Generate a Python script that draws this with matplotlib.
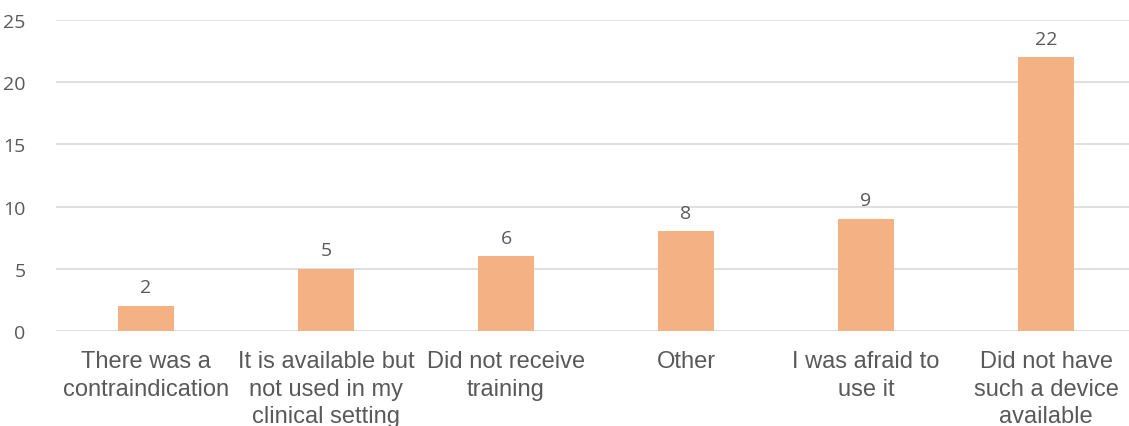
import numpy as np
import matplotlib.pyplot as plt

categories = ["There was a\ncontraindication", "It is available but\nnot used in my\nclinical setting",
              "Did not receive\ntraining", "Other", "I was afraid to\nuse it",
              "Did not have\nsuch a device\navailable"]
values = [2, 5, 6, 8, 9, 22]
yticks = [0, 5, 10, 15, 20, 25]

text_color = '#595959'
bar_color = '#F4B183'

fig = plt.figure(figsize=(11.29, 4.27), dpi=100)
ax = fig.add_axes([56 / 1129, (427 - 332) / 427, 1080 / 1129, (332 - 21) / 427])

x = np.arange(len(categories))
bars = ax.bar(x, values, width=0.31, color=bar_color, zorder=2)

for xi, v in zip(x, values):
    ax.annotate(str(v), (xi, v), xytext=(0, 7), textcoords='offset points',
                ha='center', va='bottom', fontsize=14, color=text_color, family='Open Sans')

ax.set_xlim(-0.5, len(categories) - 0.5)
ax.set_ylim(0, 25)
ax.set_yticks(yticks)
ax.set_yticklabels([str(t) for t in yticks], fontsize=14, color=text_color, family='Open Sans')
ax.set_xticks(x)
ax.set_xticklabels(categories, fontsize=17, color=text_color, family='Liberation Sans',
                   linespacing=1.3)
ax.tick_params(axis='both', length=0)
ax.tick_params(axis='x', pad=14)
ax.tick_params(axis='y', pad=22)
ax.grid(axis='y', color='#D9D9D9', linewidth=1.2, zorder=0)
for s in ax.spines.values():
    s.set_visible(False)

plt.savefig('out.png', dpi=100)
